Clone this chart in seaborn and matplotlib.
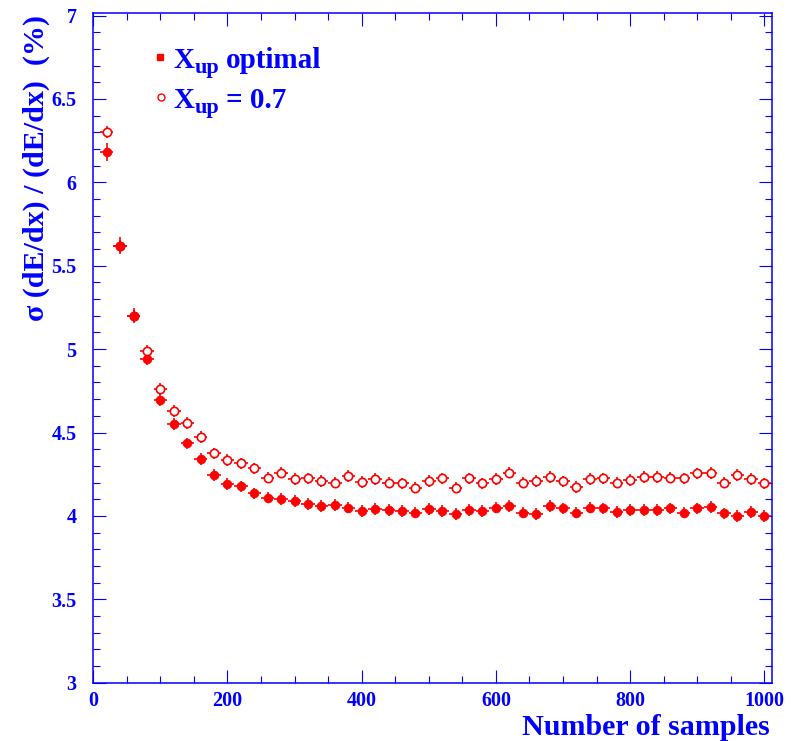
import numpy as np
import pandas as pd
import matplotlib
matplotlib.use("Agg")
import matplotlib.pyplot as plt
from matplotlib.ticker import MultipleLocator, FuncFormatter
import seaborn as sns

# Number of samples per track
n_samples = [20, 40, 60, 80, 100, 120, 140, 160, 180, 200,
             220, 240, 260, 280, 300, 320, 340, 360, 380, 400,
             420, 440, 460, 480, 500, 520, 540, 560, 580, 600,
             620, 640, 660, 680, 700, 720, 740, 760, 780, 800,
             820, 840, 860, 880, 900, 920, 940, 960, 980, 1000]

# Resolution with optimal truncation (%)
res_optimal = [6.18, 5.62, 5.20, 4.94, 4.695, 4.55, 4.435, 4.34, 4.245, 4.19,
               4.177, 4.135, 4.11, 4.10, 4.09, 4.07, 4.06, 4.067, 4.05, 4.03,
               4.04, 4.035, 4.03, 4.02, 4.043, 4.03, 4.01, 4.035, 4.031, 4.05,
               4.06, 4.02, 4.01, 4.06, 4.045, 4.02, 4.05, 4.045, 4.025, 4.035,
               4.035, 4.035, 4.045, 4.02, 4.045, 4.055, 4.015, 4.00, 4.025, 4.00]
err_optimal = [0.055, 0.05, 0.045, 0.035, 0.035, 0.035, 0.035, 0.035, 0.035, 0.035,
               0.035, 0.035, 0.035, 0.035, 0.035, 0.035, 0.035, 0.035, 0.035, 0.035,
               0.035, 0.035, 0.035, 0.035, 0.035, 0.035, 0.035, 0.035, 0.035, 0.035,
               0.035, 0.035, 0.035, 0.035, 0.035, 0.035, 0.035, 0.035, 0.035, 0.035,
               0.035, 0.035, 0.035, 0.035, 0.035, 0.035, 0.035, 0.035, 0.035, 0.035]

# Resolution with fixed truncation X_up = 0.7 (%)
res_fixed = [6.30, 5.62, 5.20, 4.99, 4.76, 4.63, 4.555, 4.475, 4.375, 4.335,
             4.315, 4.285, 4.23, 4.26, 4.22, 4.225, 4.21, 4.20, 4.24, 4.205,
             4.22, 4.20, 4.195, 4.17, 4.21, 4.225, 4.17, 4.225, 4.195, 4.22,
             4.26, 4.20, 4.21, 4.235, 4.207, 4.175, 4.22, 4.225, 4.20, 4.215,
             4.235, 4.235, 4.23, 4.225, 4.255, 4.258, 4.20, 4.245, 4.22, 4.195]
err_fixed = [0.035, 0.035, 0.035, 0.035, 0.035, 0.035, 0.035, 0.035, 0.035, 0.035,
             0.035, 0.035, 0.035, 0.035, 0.035, 0.035, 0.035, 0.035, 0.035, 0.035,
             0.035, 0.035, 0.035, 0.035, 0.035, 0.035, 0.035, 0.035, 0.035, 0.035,
             0.035, 0.035, 0.035, 0.035, 0.035, 0.035, 0.035, 0.035, 0.035, 0.035,
             0.035, 0.035, 0.035, 0.035, 0.035, 0.035, 0.035, 0.035, 0.035, 0.035]

bin_half_width = 10

df = pd.DataFrame({"n": n_samples, "opt": res_optimal, "fix": res_fixed,
                   "eopt": err_optimal, "efix": err_fixed})

sns.set_style("ticks")
plt.rcParams["font.family"] = ["Liberation Serif", "DejaVu Serif"]
plt.rcParams["font.weight"] = "bold"

BLUE = "#0000ff"
RED = "#ff0000"

W, H = 798, 741
fig = plt.figure(figsize=(W / 100, H / 100), dpi=100)
fig.patch.set_facecolor("white")
ax = fig.add_axes([93.3 / W, (H - 682.7) / H, (772 - 93.3) / W, (682.7 - 13) / H])
ax.set_facecolor("white")

# error crosses
ax.errorbar(df["n"], df["fix"], xerr=bin_half_width, yerr=df["efix"], fmt="none",
            ecolor=RED, elinewidth=1.2, capsize=0, zorder=2)
ax.errorbar(df["n"], df["opt"], xerr=bin_half_width, yerr=df["eopt"], fmt="none",
            ecolor=RED, elinewidth=1.2, capsize=0, zorder=2)

# open markers: X_up = 0.7
sns.scatterplot(data=df, x="n", y="fix", ax=ax, color=RED, marker="o", s=36,
                linewidth=1.2, edgecolor=RED, zorder=3, legend=False)
ax.collections[-1].set_facecolor("white")
# filled markers: optimal X_up
sns.scatterplot(data=df, x="n", y="opt", ax=ax, color=RED, marker="o", s=40,
                linewidth=0.5, edgecolor=RED, zorder=4, legend=False)

ax.set_xlim(0, 1011.5)
ax.set_ylim(3, 7.015)

ax.xaxis.set_major_locator(MultipleLocator(200))
ax.xaxis.set_minor_locator(MultipleLocator(50))
ax.yaxis.set_major_locator(MultipleLocator(0.5))
ax.yaxis.set_minor_locator(MultipleLocator(0.1))
ax.yaxis.set_major_formatter(FuncFormatter(lambda v, p: f"{v:g}"))
ax.xaxis.set_major_formatter(FuncFormatter(lambda v, p: f"{v:g}"))

for sp in ax.spines.values():
    sp.set_visible(True)
    sp.set_color(BLUE)
    sp.set_linewidth(1.1)

ax.tick_params(which="both", direction="in", top=True, right=True,
               color=BLUE, width=0.8, labelcolor=BLUE)
ax.tick_params(which="major", length=9.4)
ax.tick_params(which="minor", length=4.7)
ax.tick_params(axis="y", which="major", pad=12, labelsize=14.5)
ax.tick_params(axis="x", which="major", pad=6, labelsize=14.5)
for lab in ax.get_xticklabels() + ax.get_yticklabels():
    lab.set_fontweight("bold")

ax.set_xlabel("")
ax.set_ylabel("")

# axis titles, aligned to the axis ends
fig.text(770 / W, 1 - 735 / H, "Number of samples", ha="right", va="baseline",
         color=BLUE, fontsize=21.6, fontweight="bold")
fig.text(36 / W, 1 - 15 / H, "σ (dE/dx) / (dE/dx)  (%)", rotation=90,
         ha="center", va="top", color=BLUE, fontsize=21.6, fontweight="bold")

# legend entries
fig.lines.append(plt.Line2D([160 / W], [1 - 57 / H], transform=fig.transFigure,
                            marker="s", markersize=4.5, color=RED, linestyle="none"))
fig.lines.append(plt.Line2D([160.7 / W], [1 - 97.3 / H], transform=fig.transFigure,
                            marker="o", markersize=5, markerfacecolor="white",
                            markeredgecolor=RED, markeredgewidth=1.0, linestyle="none"))


def legend_label(y_base, rest):
    fig.text(173 / W, 1 - y_base / H, "X", ha="left", va="baseline",
             color=BLUE, fontsize=21, fontweight="bold")
    fig.text(195 / W, 1 - (y_base + 4.5) / H, "up", ha="left", va="baseline",
             color=BLUE, fontsize=16, fontweight="bold")
    fig.text(226 / W, 1 - y_base / H, rest, ha="left", va="baseline",
             color=BLUE, fontsize=21, fontweight="bold")


legend_label(68, "optimal")
legend_label(108, "= 0.7")

fig.savefig("out.png", dpi=100, facecolor="white")
